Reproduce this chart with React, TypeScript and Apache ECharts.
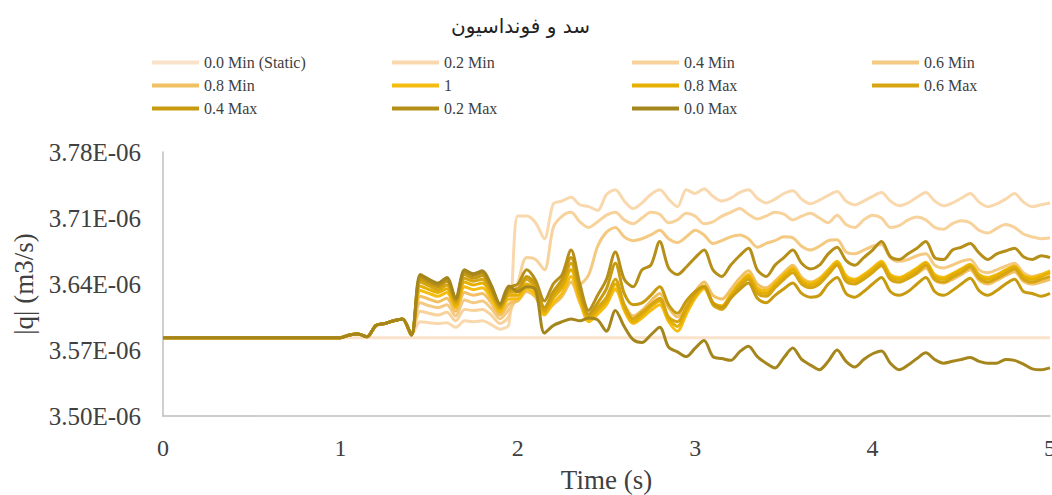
import React, { useEffect, useRef } from "react";
import * as echarts from "echarts";

const TITLE = "سد و فونداسیون";
const X_NAME = "Time (s)";
const Y_NAME = "|q| (m3/s)";

const TIME = [
  0, 0.5, 1.0, 1.05, 1.1, 1.15, 1.2, 1.25, 1.3, 1.35, 1.4,
  1.45, 1.5, 1.55, 1.6, 1.65, 1.7, 1.75, 1.8, 1.85, 1.9, 1.95,
  2.0, 2.05, 2.1, 2.15, 2.2, 2.25, 2.3, 2.35, 2.4, 2.45,
  2.5, 2.55, 2.6, 2.65, 2.7, 2.75, 2.8, 2.85, 2.9, 2.95,
  3.0, 3.05, 3.1, 3.15, 3.2, 3.25, 3.3, 3.35, 3.4, 3.45,
  3.5, 3.55, 3.6, 3.65, 3.7, 3.75, 3.8, 3.85, 3.9, 3.95,
  4.0, 4.05, 4.1, 4.15, 4.2, 4.25, 4.3, 4.35, 4.4, 4.45,
  4.5, 4.55, 4.6, 4.65, 4.7, 4.75, 4.8, 4.85, 4.9, 4.95,
  5.0,
];

// values in units of 1E-06 m3/s
const COMMON_START = [3.583, 3.583, 3.583, 3.586, 3.587, 3.584, 3.596, 3.598, 3.601, 3.603, 3.586];

const STATIC_TIME = [0, 5];
const STATIC_VALUES = [3.583, 3.583];

const MIN_02 = [
  3.600, 3.599, 3.598, 3.599, 3.594, 3.601, 3.600, 3.601, 3.597, 3.592, 3.597,
  3.712, 3.712, 3.705, 3.688, 3.725, 3.728, 3.732, 3.724, 3.722, 3.718,
  3.735, 3.740, 3.728, 3.720, 3.726, 3.735, 3.740, 3.730, 3.722, 3.740,
  3.736, 3.741, 3.733, 3.728, 3.731, 3.737, 3.740, 3.731, 3.726, 3.730,
  3.736, 3.739, 3.730, 3.725, 3.729, 3.734, 3.738, 3.728, 3.724, 3.728,
  3.733, 3.737, 3.728, 3.723, 3.726, 3.732, 3.737, 3.728, 3.723, 3.726,
  3.731, 3.736, 3.727, 3.722, 3.725, 3.730, 3.736, 3.727, 3.722, 3.724,
  3.726,
];
const MIN_04 = [
  3.611, 3.609, 3.607, 3.610, 3.601, 3.613, 3.612, 3.613, 3.607, 3.598, 3.606,
  3.640, 3.668, 3.666, 3.655, 3.700, 3.712, 3.716, 3.706, 3.700, 3.706,
  3.713, 3.716, 3.708, 3.704, 3.710, 3.716, 3.714, 3.705, 3.708, 3.715,
  3.712, 3.704, 3.706, 3.712, 3.716, 3.720, 3.714, 3.709, 3.712, 3.716,
  3.714, 3.708, 3.712, 3.715, 3.710, 3.705, 3.713, 3.703, 3.700, 3.708,
  3.713, 3.710, 3.700, 3.702, 3.708, 3.711, 3.708, 3.700, 3.698, 3.704,
  3.707, 3.705, 3.697, 3.694, 3.699, 3.703, 3.700, 3.693, 3.690, 3.688,
  3.689,
];
const MIN_06 = [
  3.620, 3.617, 3.615, 3.618, 3.606, 3.623, 3.620, 3.622, 3.614, 3.603, 3.613,
  3.625, 3.640, 3.635, 3.615, 3.630, 3.640, 3.655, 3.640, 3.650, 3.680,
  3.695, 3.700, 3.690, 3.686, 3.688, 3.692, 3.697, 3.688, 3.684, 3.690,
  3.697, 3.692, 3.683, 3.686, 3.690, 3.692, 3.688, 3.679, 3.683, 3.686,
  3.690, 3.689, 3.680, 3.676, 3.680, 3.686, 3.687, 3.674, 3.672, 3.676,
  3.680, 3.682, 3.668, 3.664, 3.666, 3.670, 3.672, 3.660, 3.657, 3.660,
  3.664, 3.666, 3.655, 3.652, 3.655, 3.659, 3.662, 3.652, 3.648, 3.650,
  3.652,
];
const MIN_08 = [
  3.627, 3.624, 3.621, 3.625, 3.611, 3.631, 3.628, 3.630, 3.620, 3.607, 3.619,
  3.622, 3.632, 3.626, 3.610, 3.618, 3.627, 3.642, 3.620, 3.603, 3.610,
  3.620, 3.634, 3.618, 3.606, 3.612, 3.622, 3.630, 3.615, 3.605, 3.618,
  3.632, 3.642, 3.628, 3.624, 3.634, 3.646, 3.654, 3.640, 3.636, 3.643,
  3.652, 3.660, 3.647, 3.642, 3.646, 3.655, 3.662, 3.647, 3.643, 3.647,
  3.653, 3.659, 3.645, 3.642, 3.646, 3.651, 3.657, 3.644, 3.641, 3.645,
  3.650, 3.655, 3.644, 3.640, 3.644, 3.649, 3.653, 3.643, 3.640, 3.642,
  3.645,
];
const ONE = [
  3.633, 3.630, 3.627, 3.631, 3.615, 3.637, 3.634, 3.636, 3.625, 3.610, 3.624,
  3.624, 3.635, 3.628, 3.607, 3.620, 3.630, 3.648, 3.622, 3.600, 3.608,
  3.618, 3.635, 3.612, 3.598, 3.604, 3.612, 3.618, 3.600, 3.590, 3.608,
  3.625, 3.635, 3.620, 3.617, 3.629, 3.641, 3.650, 3.636, 3.633, 3.641,
  3.650, 3.657, 3.645, 3.641, 3.645, 3.655, 3.664, 3.649, 3.645, 3.650,
  3.657, 3.664, 3.650, 3.647, 3.651, 3.657, 3.663, 3.650, 3.647, 3.651,
  3.656, 3.661, 3.650, 3.647, 3.650, 3.655, 3.659, 3.649, 3.647, 3.650,
  3.654,
];
const MAX_08 = [
  3.638, 3.634, 3.631, 3.635, 3.617, 3.642, 3.639, 3.641, 3.629, 3.613, 3.628,
  3.628, 3.640, 3.632, 3.610, 3.625, 3.636, 3.655, 3.626, 3.603, 3.612,
  3.622, 3.640, 3.615, 3.600, 3.607, 3.616, 3.622, 3.603, 3.595, 3.612,
  3.628, 3.637, 3.620, 3.616, 3.628, 3.640, 3.648, 3.633, 3.630, 3.639,
  3.648, 3.655, 3.643, 3.639, 3.643, 3.653, 3.662, 3.646, 3.643, 3.648,
  3.655, 3.662, 3.648, 3.645, 3.649, 3.655, 3.662, 3.648, 3.645, 3.650,
  3.655, 3.660, 3.649, 3.645, 3.649, 3.654, 3.658, 3.648, 3.645, 3.648,
  3.652,
];
const MAX_06 = [
  3.642, 3.638, 3.634, 3.639, 3.620, 3.646, 3.643, 3.645, 3.632, 3.615, 3.631,
  3.632, 3.645, 3.636, 3.612, 3.628, 3.640, 3.662, 3.630, 3.605, 3.615,
  3.626, 3.645, 3.618, 3.603, 3.610, 3.618, 3.625, 3.605, 3.600, 3.615,
  3.630, 3.638, 3.618, 3.613, 3.625, 3.637, 3.645, 3.630, 3.627, 3.636,
  3.645, 3.652, 3.640, 3.636, 3.640, 3.650, 3.660, 3.643, 3.640, 3.645,
  3.652, 3.660, 3.645, 3.642, 3.646, 3.652, 3.660, 3.645, 3.642, 3.647,
  3.652, 3.658, 3.646, 3.642, 3.646, 3.651, 3.656, 3.645, 3.642, 3.645,
  3.648,
];
const MAX_04 = [
  3.645, 3.641, 3.637, 3.643, 3.622, 3.650, 3.646, 3.649, 3.635, 3.616, 3.634,
  3.635, 3.648, 3.640, 3.615, 3.632, 3.645, 3.668, 3.635, 3.608, 3.620,
  3.635, 3.662, 3.630, 3.618, 3.620, 3.628, 3.637, 3.618, 3.609, 3.622,
  3.632, 3.637, 3.620, 3.615, 3.625, 3.634, 3.641, 3.625, 3.620, 3.628,
  3.635, 3.641, 3.630, 3.626, 3.628, 3.640, 3.647, 3.630, 3.626, 3.632,
  3.640, 3.647, 3.632, 3.628, 3.632, 3.640, 3.647, 3.632, 3.628, 3.633,
  3.640, 3.646, 3.633, 3.628, 3.633, 3.640, 3.645, 3.632, 3.630, 3.627,
  3.630,
];
const MAX_02 = [
  3.648, 3.643, 3.639, 3.645, 3.624, 3.653, 3.649, 3.652, 3.637, 3.618, 3.636,
  3.640, 3.655, 3.644, 3.622, 3.640, 3.650, 3.676, 3.640, 3.612, 3.628,
  3.645, 3.674, 3.645, 3.637, 3.655, 3.660, 3.685, 3.657, 3.650, 3.658,
  3.668, 3.676, 3.655, 3.648, 3.660, 3.670, 3.678, 3.655, 3.648, 3.660,
  3.668, 3.676, 3.662, 3.656, 3.660, 3.672, 3.679, 3.665, 3.660, 3.668,
  3.676, 3.685, 3.669, 3.666, 3.672, 3.678, 3.685, 3.668, 3.666, 3.676,
  3.679, 3.683, 3.673, 3.666, 3.672, 3.675, 3.678, 3.669, 3.666, 3.670,
  3.668,
];
const MAX_00 = [
  3.650, 3.645, 3.641, 3.647, 3.625, 3.655, 3.651, 3.654, 3.639, 3.619, 3.638,
  3.632, 3.637, 3.634, 3.588, 3.596, 3.600, 3.603, 3.601, 3.604, 3.602,
  3.590, 3.612, 3.595, 3.581, 3.578, 3.586, 3.594, 3.573, 3.568, 3.563,
  3.572, 3.580, 3.563, 3.561, 3.559, 3.568, 3.574, 3.563, 3.556, 3.551,
  3.562, 3.572, 3.560, 3.554, 3.549, 3.558, 3.570, 3.558, 3.552, 3.560,
  3.566, 3.569, 3.556, 3.549, 3.554, 3.561, 3.567, 3.560, 3.556, 3.558,
  3.560, 3.562, 3.558, 3.556, 3.556, 3.560, 3.559, 3.555, 3.550, 3.549,
  3.551,
];

const SERIES_NAMES = [
  "0.0 Min (Static)", "0.2 Min", "0.4 Min", "0.6 Min", "0.8 Min", "1",
  "0.8 Max", "0.6 Max", "0.4 Max", "0.2 Max", "0.0 Max",
];
const SERIES_VALUES = [
  STATIC_VALUES, MIN_02, MIN_04, MIN_06, MIN_08, ONE,
  MAX_08, MAX_06, MAX_04, MAX_02, MAX_00,
];
const SERIES_COLORS = [
  "#FBE3CB", "#F9D8AD", "#F7D29B", "#F4C981", "#F1C063", "#F5BC12",
  "#E6B000", "#D6A511", "#C79A0F", "#B68F18", "#A5861C",
];

const FONT = "'Liberation Serif', 'Times New Roman', serif";

export default function App() {
  const ref = useRef<HTMLDivElement>(null);

  useEffect(() => {
    document.body.style.margin = "0";
    if (!ref.current) return;
    const chart = echarts.init(ref.current, null, { renderer: "svg" });

    const series = SERIES_NAMES.map((name, si) => {
      let data: number[][];
      if (si === 0) {
        data = STATIC_TIME.map((t, i) => [t, SERIES_VALUES[0][i]]);
      } else {
        const vals = COMMON_START.concat(SERIES_VALUES[si]);
        const n = Math.min(vals.length, TIME.length);
        data = [];
        for (let i = 0; i < n; i++) data.push([TIME[i], vals[i]]);
      }
      return {
        name,
        type: "line",
        data,
        showSymbol: false,
        symbol: "none",
        smooth: 0.3,
        lineStyle: { width: 3, color: SERIES_COLORS[si] },
        itemStyle: { color: SERIES_COLORS[si] },
        z: 2,
      };
    });

    chart.setOption({
      animation: false,
      backgroundColor: "#ffffff",
      title: {
        text: TITLE,
        left: 446,
        top: 11,
        textStyle: {
          fontFamily: "'DejaVu Sans', 'Noto Sans', sans-serif",
          fontSize: 20,
          fontWeight: "normal",
          color: "#222222",
        },
      },
      legend: {
        left: 147,
        top: 46,
        width: 970,
        itemGap: 0,
        itemWidth: 47,
        itemHeight: 4,
        icon: "rect",
        data: SERIES_NAMES,
        textStyle: {
          fontFamily: FONT,
          fontSize: 16,
          color: "#404040",
          width: 188,
          lineHeight: 23,
          height: 23,
        },
      },
      grid: {
        left: 163,
        right: 2,
        top: 152,
        bottom: 79,
        outerBoundsMode: "none",
        containLabel: false,
      },
      xAxis: {
        type: "value",
        min: 0,
        max: 5,
        interval: 1,
        name: X_NAME,
        nameLocation: "middle",
        nameGap: 50,
        nameTextStyle: { fontFamily: FONT, fontSize: 27, color: "#404040" },
        axisLine: { show: true, lineStyle: { color: "#BFBFBF", width: 1.5 } },
        axisTick: { show: false },
        splitLine: { show: false },
        axisLabel: {
          fontFamily: FONT,
          fontSize: 24,
          color: "#404040",
          margin: 20,
        },
      },
      yAxis: {
        type: "value",
        min: 3.5,
        max: 3.78,
        interval: 0.07,
        name: Y_NAME,
        nameLocation: "middle",
        nameGap: 124,
        nameTextStyle: { fontFamily: FONT, fontSize: 27, color: "#404040" },
        axisLine: { show: true, lineStyle: { color: "#BFBFBF", width: 1.5 } },
        axisTick: { show: false },
        splitLine: { show: false },
        axisLabel: {
          fontFamily: FONT,
          fontSize: 25,
          color: "#404040",
          margin: 22,
          formatter: (v: number) => v.toFixed(2) + "E-06",
        },
      },
      series,
    });

    return () => chart.dispose();
  }, []);

  return <div ref={ref} style={{ width: 1052, height: 495 }} />;
}
